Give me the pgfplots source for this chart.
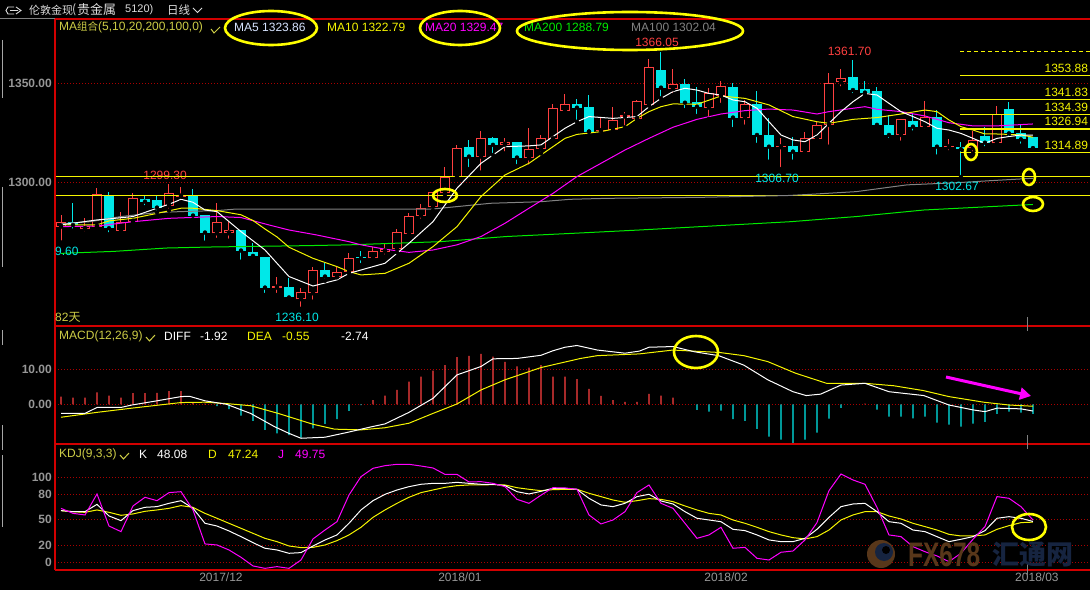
\documentclass[border=0pt]{standalone}
\usepackage{fontspec}
\setmainfont{Liberation Sans}
\newfontfamily\cjk{Noto Sans CJK SC}
\usepackage{pgfplots}
\usepackage{pgfplotstable}
\pgfplotsset{compat=1.18}
\usetikzlibrary{arrows.meta}

\definecolor{cr}{RGB}{255,64,64}
\definecolor{cc}{RGB}{0,232,232}
\definecolor{gridred}{RGB}{170,0,0}
\definecolor{framered}{RGB}{210,0,0}
\definecolor{tickgray}{RGB}{150,150,150}
\definecolor{hdr}{RGB}{205,205,70}
\definecolor{yel}{RGB}{245,245,0}
\definecolor{mag}{RGB}{255,0,255}
\definecolor{grn}{RGB}{0,235,0}
\definecolor{gry}{RGB}{130,130,130}
\definecolor{ma5txt}{RGB}{215,228,255}
\definecolor{ring}{RGB}{255,255,0}
\definecolor{titlegray}{RGB}{220,220,220}
\definecolor{wmbrown}{RGB}{88,55,26}
\definecolor{wmblue}{RGB}{22,36,64}

\newcommand\fs{\fontsize{12}{14}\selectfont}

\pgfplotstableread{
i o h l c
0 1277.6 1283.5 1269.6 1279.8
2 1276.4 1281.8 1274.2 1278.1
3 1277.6 1297.0 1277.6 1293.9
5 1275.6 1284.8 1275.1 1280.1
6 1280.1 1294.4 1278.5 1291.9
9 1288.2 1299.3 1285.7 1294.4
10 1292.8 1297.8 1289.9 1293.3
13 1274.2 1289.4 1270.9 1279.8
14 1274.2 1280.1 1270.5 1275.9
18 1246.8 1252.4 1243.1 1247.8
20 1240.9 1246.5 1236.1 1244.4
21 1243.9 1257.4 1239.7 1255.7
23 1252.4 1257.4 1252.0 1254.9
24 1254.9 1264.1 1254.0 1261.6
26 1261.6 1267.5 1260.8 1265.3
27 1265.0 1268.9 1262.5 1266.3
28 1266.3 1276.4 1264.6 1274.7
29 1273.9 1284.3 1272.6 1283.0
30 1283.2 1289.1 1280.6 1286.9
31 1287.7 1295.0 1285.7 1295.0
32 1294.4 1307.9 1292.8 1302.9
33 1302.5 1318.9 1302.0 1317.2
35 1313.0 1326.1 1304.9 1322.2
37 1319.0 1322.2 1314.6 1320.2
39 1312.1 1327.3 1307.9 1316.7
40 1316.7 1323.9 1314.6 1322.2
41 1321.7 1339.4 1321.4 1337.4
42 1336.2 1344.6 1335.2 1339.4
45 1325.9 1332.8 1323.9 1326.4
46 1326.4 1337.9 1325.6 1331.5
47 1333.2 1335.7 1327.8 1334.0
48 1332.0 1341.6 1332.0 1341.1
49 1339.1 1362.3 1338.7 1358.1
51 1347.0 1357.2 1344.1 1349.5
54 1337.7 1347.8 1332.0 1344.9
55 1343.6 1351.2 1339.1 1348.7
57 1332.7 1341.6 1328.1 1339.4
60 1317.7 1322.6 1306.7 1318.5
62 1315.5 1325.6 1313.8 1322.2
63 1321.9 1330.6 1321.4 1329.0
64 1329.0 1355.4 1318.0 1350.0
65 1350.5 1357.1 1347.5 1352.5
70 1323.9 1331.8 1320.0 1331.8
72 1328.1 1341.1 1326.1 1333.2
74 1317.7 1321.7 1315.2 1318.3
76 1317.2 1326.1 1314.6 1321.4
78 1319.7 1338.6 1319.7 1334.5
}\up

\pgfplotstableread{
i o h l c
1 1279.8 1289.4 1275.6 1278.4
4 1293.3 1295.0 1273.7 1276.8
7 1291.4 1293.3 1287.4 1290.2
8 1291.1 1293.3 1284.8 1287.2
11 1293.3 1296.6 1281.0 1283.2
12 1283.5 1283.5 1269.5 1274.6
15 1275.9 1275.9 1259.9 1265.5
16 1264.6 1269.2 1261.6 1262.8
17 1262.1 1262.1 1243.1 1246.8
19 1247.0 1251.5 1240.1 1241.8
22 1255.7 1259.1 1250.3 1252.4
25 1262.5 1265.5 1258.2 1261.6
34 1317.7 1321.4 1306.7 1313.0
36 1322.2 1323.1 1313.8 1318.9
38 1320.2 1320.2 1308.2 1312.5
43 1339.4 1341.9 1330.6 1337.7
44 1337.9 1344.1 1325.6 1325.6
50 1356.7 1366.05 1342.4 1347.8
52 1349.5 1352.2 1336.5 1340.2
53 1340.4 1348.3 1333.5 1338.2
56 1348.0 1350.3 1326.9 1332.7
58 1339.6 1346.1 1318.9 1323.9
59 1323.9 1332.3 1310.4 1318.0
61 1318.3 1323.1 1310.4 1315.5
66 1353.4 1361.7 1344.1 1346.6
67 1347.1 1351.2 1344.1 1345.3
68 1346.1 1348.3 1327.6 1329.0
69 1329.0 1334.0 1321.4 1323.9
71 1331.0 1334.8 1325.1 1328.1
73 1332.8 1336.5 1313.0 1318.0
75 1318.0 1320.5 1302.67 1316.7
77 1323.4 1327.8 1317.2 1320.0
79 1337.0 1340.7 1321.7 1324.7
80 1325.1 1329.0 1318.5 1321.7
81 1322.7 1322.7 1317.2 1317.2
}\down

\pgfplotstableread{
i K D J
0 60.8 60.8 63.5
1 59.6 59.5 57.6
2 59.6 58.8 55.7
3 68.2 61.6 80.4
4 54.5 58.8 42.7
5 49.0 55.3 36.1
6 60.8 56.9 66.3
7 64.7 60.0 76.5
8 65.5 61.6 72.5
9 69.4 63.5 82.0
10 72.5 66.7 83.1
11 63.5 64.7 61.6
12 45.9 57.6 21.6
13 42.7 51.8 20.4
14 36.9 45.9 14.5
15 30.2 40.0 5.9
16 23.1 34.1 -4.3
17 16.5 28.2 -7.1
18 14.5 24.3 -5.1
19 10.6 19.2 -7.1
20 11.4 17.3 2.7
21 19.2 17.6 27.5
22 26.3 20.4 38.0
23 32.2 25.5 47.8
24 45.9 32.2 79.2
25 61.6 41.2 100.8
26 72.5 52.9 110.6
27 80.0 61.6 113.7
28 85.1 69.4 115.3
29 89.0 76.5 115.3
30 91.8 82.0 113.3
31 92.9 85.1 111.0
32 92.9 88.2 103.5
33 94.1 90.2 103.5
34 92.9 91.0 94.5
35 91.8 91.0 94.9
36 91.8 91.4 92.9
37 90.2 91.0 89.0
38 83.1 87.8 74.1
39 80.4 85.9 69.4
40 83.5 84.3 79.0
41 87.1 85.5 87.8
42 87.0 85.8 87.5
43 85.9 85.9 85.9
44 75.3 81.2 55.7
45 67.5 77.3 45.1
46 65.5 73.3 49.8
47 69.4 70.6 59.6
48 77.3 72.5 82.0
49 80.0 74.9 91.0
50 72.2 74.1 69.4
51 68.6 71.4 63.5
52 59.6 66.3 45.9
53 51.8 61.6 28.2
54 49.8 57.6 32.2
55 47.8 55.7 41.2
56 38.8 49.8 16.5
57 37.3 45.9 17.6
58 32.2 41.2 4.7
59 26.3 36.1 2.7
60 24.3 32.2 11.8
61 24.3 29.0 13.3
62 28.2 27.5 26.3
63 38.8 30.2 46.7
64 52.9 38.0 84.3
65 65.5 49.8 103.9
66 68.6 55.7 96.9
67 69.4 59.6 91.8
68 59.6 59.6 64.7
69 47.8 54.5 32.2
70 45.9 51.0 30.2
71 38.0 45.9 18.4
72 36.1 42.0 12.5
73 30.2 38.0 7.5
74 24.3 32.9 0.8
75 27.1 31.0 10.6
76 30.2 31.0 27.1
77 37.3 32.2 42.0
78 51.8 38.8 77.3
79 53.7 43.1 75.3
80 51.8 46.7 65.5
81 48.08 47.24 49.75
}\kdj

\pgfplotsset{panel/.style={scale only axis, width=1035pt, xmin=-0.5, xmax=85.75,
  axis line style={draw=none}, major tick length=0pt, xtick=\empty,
  ymajorgrids, grid style={gridred, line width=0.9pt, dash pattern=on 1pt off 2pt},
  yticklabel style={text=tickgray, font=\bfseries\fs, inner sep=3pt},
  clip=true},
  wick/.style={only marks, mark=none, forget plot, error bars/.cd, y dir=plus, y explicit, error mark=none,
     error bar style={draw=#1, line width=1pt}},
  body/.style 2 args={only marks, mark=none, forget plot, error bars/.cd, y dir=plus, y explicit, error mark=none,
     error bar style={draw=#1, line width=#2}}}

\begin{document}
\begin{tikzpicture}
\fill[black] (0,0) rectangle (1090pt,590pt);

% ---------------- main price panel ----------------
\begin{axis}[panel, at={(55pt,264pt)}, anchor=south west, height=307pt,
  ymin=1227.4, ymax=1382.5, ytick={1300,1350}, yticklabels={1300.00,1350.00}]
% candles
\addplot[wick=cr] table[x=i, y=l, y error expr={\thisrow{h}-\thisrow{l}}] {\up};
\addplot[body={cr}{10pt}] table[x=i, y=o, y error expr={max(\thisrow{c}-\thisrow{o},0.6)}] {\up};
\addplot[body={black}{8pt}] table[x=i, y expr={\thisrow{o}+0.5}, y error expr={max(\thisrow{c}-\thisrow{o}-1,0)}] {\up};
\addplot[wick=cc] table[x=i, y=l, y error expr={\thisrow{h}-\thisrow{l}}] {\down};
\addplot[body={cc}{10pt}] table[x=i, y=c, y error expr={max(\thisrow{o}-\thisrow{c},0.6)}] {\down};
% label under the support line
\node[inner sep=0, text=cr, font=\fs] at (axis cs:8.67,1303.3) {1299.30};
% horizontal support lines
\addplot[yel, line width=1.2pt] coordinates {(-0.5,1303.0)(85.75,1303.0)};
\addplot[yel, line width=1.2pt] coordinates {(-0.5,1293.4)(85.75,1293.4)};
\addplot[yel, line width=1.2pt, dash pattern=on 4pt off 3pt] coordinates {(74.92,1366.05)(85.75,1366.05)};
\addplot[yel, line width=1.2pt] coordinates {(74.92,1353.88)(85.75,1353.88)};
\addplot[yel, line width=1.2pt] coordinates {(74.92,1341.83)(85.75,1341.83)};
\addplot[yel, line width=1.2pt] coordinates {(74.92,1334.39)(85.75,1334.39)};
\addplot[yel, line width=1.2pt] coordinates {(74.92,1326.94)(85.75,1326.94)};
\addplot[yel, line width=1.2pt] coordinates {(74.92,1314.89)(85.75,1314.89)};
% MA200
\addplot[grn, line width=1pt] coordinates {(0,1264.1)(4.4,1265.1)(8.8,1266.8)(12.4,1267.3)(20.5,1268.0)(24,1268.4)(31.6,1270.0)(37.1,1272.6)(42.6,1274.2)(48.2,1275.9)(53.3,1277.6)(60.8,1280.1)(66.3,1282.7)(71.9,1286.0)(77.4,1287.7)(81,1288.79)};
% MA100
\addplot[gry, line width=1pt] coordinates {(0,1279.0)(2.4,1280.1)(5,1282.7)(8,1284.7)(10,1285.2)(13,1285.7)(14.4,1286.4)(24,1286.4)(30.8,1286.4)(35.8,1289.4)(40,1290.2)(42.4,1291.4)(45.5,1291.9)(53.3,1292.4)(60.5,1293.3)(62.4,1293.9)(66.3,1295.3)(70.5,1298.7)(74.7,1299.8)(77.4,1300.8)(81,1302.04)};
% MA20
\addplot[mag, line width=1pt] coordinates {(0,1277.6)(3,1277.9)(6,1280.1)(9,1281.8)(13,1282.7)(15,1282.2)(17.3,1278.5)(19,1275.9)(21.3,1273.4)(24,1270.0)(25,1268.4)(27,1266.2)(29,1264.6)(31,1265.8)(33,1268.4)(35,1272.6)(37,1279.3)(39,1286.9)(41,1294.4)(43,1302.9)(45,1309.6)(47,1316.3)(49,1322.2)(51,1327.8)(53,1331.8)(55,1334.5)(57,1336.2)(59,1337.0)(61,1336.5)(63,1334.5)(64,1335.7)(66,1337.4)(67,1338.2)(68,1336.9)(70,1335.7)(72,1333.5)(74,1330.1)(76,1328.5)(78,1328.5)(81,1329.47)};
% MA10
\addplot[yel, line width=1pt] coordinates {(0,1278.5)(3,1278.5)(4,1280.5)(6,1281.8)(8,1284.3)(10,1286.9)(11,1286.9)(13,1285.7)(15,1283.6)(16,1280.7)(17,1276.4)(18,1272.4)(19,1267.2)(21,1261.6)(23,1257.4)(24,1254.9)(25,1253.2)(27,1254.0)(29,1259.1)(31,1267.5)(33,1277.6)(35,1292.8)(37,1303.7)(39,1309.6)(40,1313.8)(42,1322.2)(43,1324.2)(45,1325.6)(47,1328.1)(48,1332.3)(49,1335.7)(50,1338.2)(51,1339.6)(53,1339.4)(55,1343.6)(57,1342.4)(59,1339.1)(61,1333.2)(63,1330.6)(64,1329.8)(66,1331.8)(68,1332.7)(70,1334.5)(72,1336.5)(73,1335.7)(74,1331.5)(75,1328.1)(76,1326.4)(77,1324.4)(78,1324.4)(79,1324.2)(80,1323.9)(81,1322.79)};
% MA5
\addplot[white, line width=1pt] coordinates {(0,1278.5)(3,1281.0)(4,1281.5)(6,1282.7)(8,1286.9)(9,1288.9)(10,1291.4)(11,1289.9)(12,1286.0)(13,1285.2)(15,1275.1)(17,1265.8)(19,1252.4)(21,1247.6)(23,1250.7)(24,1254.0)(25,1255.7)(27,1259.1)(29,1269.2)(31,1280.1)(33,1297.0)(35,1309.6)(37,1318.0)(39,1318.4)(40,1318.9)(42,1327.3)(43,1330.6)(44,1333.2)(46,1332.3)(48,1333.2)(49,1338.2)(50,1342.4)(51,1345.8)(52,1347.5)(53,1346.6)(54,1344.9)(55,1344.1)(56,1341.6)(57,1340.7)(58,1337.4)(59,1330.6)(60,1323.9)(61,1321.4)(62,1320.5)(63,1323.9)(64,1329.8)(65,1335.7)(66,1340.7)(67,1344.9)(68,1344.1)(69,1339.9)(70,1335.7)(71,1333.2)(72,1330.6)(73,1327.3)(74,1326.4)(75,1324.7)(76,1322.2)(77,1319.7)(78,1322.2)(79,1323.1)(80,1323.9)(81,1323.86)};
% right-side level labels
\foreach \v in {1353.88,1341.83,1334.39,1326.94,1314.89}{
  \edef\temp{\noexpand\node[anchor=base east, text=yel, font=\noexpand\fs, inner sep=0, yshift=3pt] at (axis cs:85.6,\v) {\v};}
  \temp}
\end{axis}

% ---------------- MACD panel ----------------
\begin{axis}[panel, at={(55pt,146pt)}, anchor=south west, height=118pt,
  ymin=-11.34, ymax=22.37, ytick={0,10}, yticklabels={0.00,10.00}]
\addplot[ybar, bar width=1.3pt, bar shift=0pt, fill=cr, draw=none] coordinates {(0,2.2)(1,1.9)(2,1.9)(3,3.4)(4,2.5)(5,1.9)(6,3.2)(7,3.2)(8,3.3)(9,3.8)(10,3.8)(11,0.5)(12,0.2)(26,1.2)(27,2.5)(28,4.1)(29,6.5)(30,7.9)(31,9.6)(32,11.2)(33,13.5)(34,13.8)(35,14.4)(36,13.6)(37,12.1)(38,10.8)(39,10.5)(40,11.2)(41,7.9)(42,7.9)(43,7.2)(44,4.4)(45,2.4)(46,1.2)(47,0.7)(48,0.7)(49,3.0)(50,2.5)(51,1.9)(67,0.2)};
\addplot[ybar, bar width=1.3pt, bar shift=0pt, fill=cc, draw=none] coordinates {(13,-0.5)(14,-1.4)(15,-3.2)(16,-4.7)(17,-7.3)(18,-8.3)(19,-8.8)(20,-9.5)(21,-6.9)(22,-5.6)(23,-4.2)(24,-1.9)(25,-0.2)(53,-1.6)(54,-2.1)(55,-1.8)(56,-4.2)(57,-4.7)(58,-7.0)(59,-9.2)(60,-10.1)(61,-11.0)(62,-10.1)(63,-8.1)(64,-4.1)(65,-1.0)(68,-1.5)(69,-3.5)(70,-3.5)(71,-4.0)(72,-3.5)(73,-5.2)(74,-5.8)(75,-6.4)(76,-5.5)(77,-5.0)(78,-2.7)(79,-2.1)(80,-2.4)(81,-2.74)};
% DEA
\addplot[yel, line width=1pt] coordinates {(0,-3.7)(3,-2.3)(5.9,-1.1)(10,0.5)(12,0.6)(13.8,0.2)(15.8,-0.4)(18.1,-2.6)(21,-5.7)(22.8,-7.1)(25,-7.3)(27,-6.7)(29,-5.4)(31,-2.6)(33,0.1)(35,4.1)(37,7.0)(40,10.5)(43.3,13.1)(44.7,13.9)(48.2,14.4)(51,15.5)(54.9,14.8)(56.9,13.9)(58.9,12.2)(61.2,8.9)(63.8,6.0)(67,6.0)(69.4,5.3)(71.9,3.9)(74,2.2)(76.9,0.6)(79,-0.2)(81,-0.55)};
% DIFF
\addplot[white, line width=1pt] coordinates {(0,-2.6)(2,-2.6)(3,-0.9)(5,-0.9)(5.9,-0.2)(8,1.0)(10,2.2)(10.7,2.3)(12,1.0)(13.8,0)(15.8,-2.6)(17.8,-6.4)(19,-8.3)(20,-9.7)(22,-9.4)(23.9,-8.0)(25.9,-6.4)(27,-5.6)(29,-2.3)(31,1.7)(33,8.4)(35,10.8)(36,13.0)(38,13.1)(40,14.0)(41,15.3)(42,16.3)(43,16.8)(44.7,15.5)(47,14.6)(48.2,15.2)(49,16.3)(51,16.5)(52.8,15.0)(54.8,13.9)(56.9,11.2)(58.9,7.0)(61,3.6)(62.1,2.5)(63.3,2.9)(65,5.5)(67,6.0)(69,3.6)(71.9,2.5)(74,-0.2)(76,-1.6)(77,-2.1)(78,-1.1)(80,-1.3)(81,-1.92)};
\end{axis}

% ---------------- KDJ panel ----------------
\begin{axis}[panel, at={(55pt,20pt)}, anchor=south west, height=126pt,
  ymin=-9.06, ymax=139.2, ytick={0,20,50,80,100}, yticklabels={0,20,50,80,100},
  xtick={13.33,33.25,55.42,81.33}, xticklabels={2017/12,2018/01,2018/02,2018/03},
  xticklabel style={text=tickgray, font=\fs, inner sep=3pt}]
\addplot[yel, line width=1pt] table[x=i, y=D] {\kdj};
\addplot[white, line width=1pt] table[x=i, y=K] {\kdj};
\addplot[mag, line width=1pt] table[x=i, y=J] {\kdj};
\end{axis}

% ---------------- frame, texts, annotations (pixel coordinates, y down) ----------------
\begin{scope}[x=1pt, y=-1pt, shift={(0pt,590pt)}]
\draw[gray, line width=1pt] (0,19)--(55,19);
\draw[framered, line width=1.2pt] (55,19)--(1090,19);
\draw[framered, line width=1.2pt] (55,19)--(55,570);
\draw[framered, line width=1.2pt] (55,326)--(1090,326);
\draw[framered, line width=1.2pt] (55,444)--(1090,444);
\draw[framered, line width=1.2pt] (55,570)--(1090,570);
\draw[gray!70, line width=1pt] (2,40)--(2,98) (2,187)--(2,267) (2,330)--(2,345) (2,425)--(2,450) (2,455)--(2,527);
\draw[gray, line width=1pt] (1027,317)--(1027,326) (1027,326)--(1027,331) (1027,435)--(1027,444) (1027,444)--(1027,449) (1027,562)--(1027,575);

% title bar
\draw[titlegray, line width=0.9pt] (14,7)--(8,7)--(6,10.5)--(8,14)--(14,14) (16,7)--(21,10.5)--(16,14) (10,10.5)--(18,10.5);
\node[anchor=west, inner sep=0, text=titlegray, font=\cjk\fontsize{11}{13}\selectfont] at (29,10) {伦敦金现};
\node[anchor=west, inner sep=0, text=titlegray, font=\cjk\fontsize{12}{13}\selectfont] at (72,10) {(};
\node[anchor=west, inner sep=0, text=titlegray, font=\cjk\fontsize{13}{14}\selectfont] at (77,10) {贵金属};
\node[anchor=west, inner sep=0, text=titlegray, font=\fontsize{11}{13}\selectfont] at (125,10) {5120)};
\node[anchor=west, inner sep=0, text=titlegray, font=\cjk\fontsize{11.5}{13}\selectfont] at (167,10) {日线};
\draw[titlegray, line width=1pt] (193,8)--(197.5,12.5)--(202,8);

% MA header
\node[anchor=west, inner sep=0, text=hdr, font=\fs] at (59,27) {MA{\cjk\fontsize{10.5}{12}\selectfont 组合}(5,10,20,200,100,0)};
\draw[hdr, line width=1pt] (211,29)--(214,33)--(220,27);
\node[anchor=west, inner sep=0, text=ma5txt, font=\fs] at (234,27) {MA5 1323.86};
\node[anchor=west, inner sep=0, text=yel, font=\fs] at (327,27) {MA10 1322.79};
\node[anchor=west, inner sep=0, text=mag, font=\fs] at (425,27) {MA20 1329.47};
\node[anchor=west, inner sep=0, text=grn, font=\fs] at (524,27) {MA200 1288.79};
\node[anchor=west, inner sep=0, text=gry, font=\fs] at (631,27) {MA100 1302.04};

% price labels
\node[inner sep=0, text=cr, font=\fs] at (657,42) {1366.05};
\node[inner sep=0, text=cr, font=\fs] at (849.5,51.5) {1361.70};
\node[inner sep=0, text=cc, font=\fs] at (777,178) {1306.70};
\node[inner sep=0, text=cc, font=\fs] at (957,186.5) {1302.67};
\node[inner sep=0, text=cc, font=\fs] at (297,317) {1236.10};
\node[anchor=west, inner sep=0, text=cc, font=\fs] at (55,251) {9.60};
\node[anchor=west, inner sep=0, text=hdr, font=\fs] at (55,317) {82{\cjk 天}};

% MACD header
\node[anchor=west, inner sep=0, text=hdr, font=\fs] at (59,336) {MACD(12,26,9)};
\draw[hdr, line width=1pt] (146,337)--(149.5,341)--(155,335);
\node[anchor=west, inner sep=0, text=white, font=\fs] at (164,336) {DIFF};
\node[anchor=west, inner sep=0, text=white, font=\fs] at (200,336) {-1.92};
\node[anchor=west, inner sep=0, text=yel, font=\fs] at (247,336) {DEA};
\node[anchor=west, inner sep=0, text=yel, font=\fs] at (282,336) {-0.55};
\node[anchor=west, inner sep=0, text=white, font=\fs] at (341,336) {-2.74};

% KDJ header
\node[anchor=west, inner sep=0, text=hdr, font=\fs] at (59,454) {KDJ(9,3,3)};
\draw[hdr, line width=1pt] (120,455)--(123.5,459)--(129,453);
\node[anchor=west, inner sep=0, text=white, font=\fs] at (139,454) {K};
\node[anchor=west, inner sep=0, text=white, font=\fs] at (157,454) {48.08};
\node[anchor=west, inner sep=0, text=yel, font=\fs] at (208,454) {D};
\node[anchor=west, inner sep=0, text=yel, font=\fs] at (228,454) {47.24};
\node[anchor=west, inner sep=0, text=mag, font=\fs] at (278,454) {J};
\node[anchor=west, inner sep=0, text=mag, font=\fs] at (295,454) {49.75};

% watermark
\fill[wmbrown] (881,554) circle (14);
\fill[wmblue] (884,552) circle (9);
\fill[black] (886,550) circle (4);
\node[anchor=west, inner sep=0, text=wmbrown, font=\bfseries\fontsize{34}{36}\selectfont] at (908,555) {\scalebox{0.72}[1]{FX678}};
\node[anchor=west, inner sep=0, text=wmblue, font=\cjk\bfseries\fontsize{27}{30}\selectfont] at (992,555) {汇通网};

% annotations
\draw[ring, line width=2.6pt] (271,28) ellipse (46 and 17);
\draw[ring, line width=2.6pt] (460,28) ellipse (40 and 17);
\draw[ring, line width=2.6pt] (630,31) ellipse (113 and 19);
\draw[ring, line width=2.6pt] (445,195.5) ellipse (12 and 6.5);
\draw[ring, line width=2.6pt] (971,152) ellipse (6 and 8);
\draw[ring, line width=2.6pt] (1029,177) ellipse (6 and 8);
\draw[ring, line width=2.6pt] (1033,204) ellipse (10 and 7);
\draw[ring, line width=2.6pt] (696,352) ellipse (22 and 16);
\draw[ring, line width=2.6pt] (1029,527) ellipse (17 and 13);
\draw[mag, line width=3pt, -{Triangle[length=11pt, width=12pt]}] (946,377)--(1031,396);
\end{scope}

\pgfresetboundingbox
\useasboundingbox (0,0) rectangle (1090pt,590pt);
\end{tikzpicture}
\end{document}
